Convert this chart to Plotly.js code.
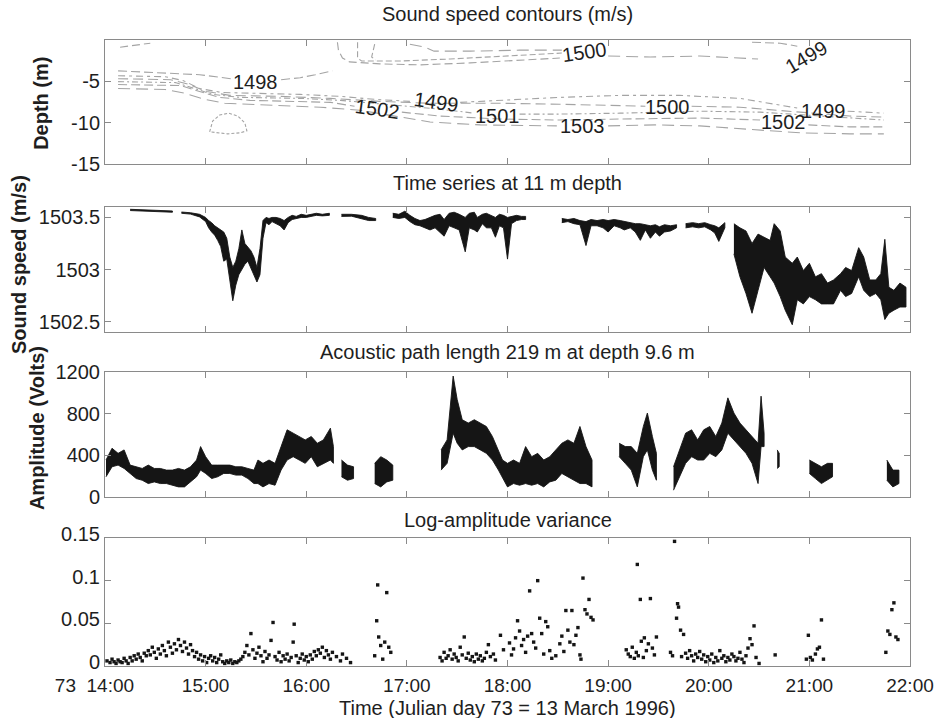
<!DOCTYPE html>
<html>
<head>
<meta charset="utf-8">
<script src="https://cdn.plot.ly/plotly-3.0.1.min.js"></script>
<style>html,body{margin:0;padding:0;background:#fff;}#chart{width:947px;height:718px;}</style>
</head>
<body>
<div id="chart"></div>
<script>
// ---------- X axis (hours of Julian day 73) ----------
const hourTicks = [14, 15, 16, 17, 18, 19, 20, 21, 22];
const hourLabels = ['73\u00a0\u00a014:00\u00a0\u00a0\u00a0\u00a0', '15:00', '16:00', '17:00', '18:00', '19:00', '20:00', '21:00', '22:00'];

// ---------- Panel 1: sound speed contour lines (time h, depth m) ----------
const c1498Time  = [14.13, 14.35, 14.61, 14.94, 15.25, null, 15.75, 15.94, 16.09, 16.26];
const c1498Depth = [-3.73, -3.85, -3.96, -4.20, -4.68, null, -4.80, -4.56, -4.20, -3.73];

const c1499Time  = [14.13, 14.60, 14.78, 14.94, 15.16, 15.54, 15.94, 16.34, 16.68, 17.03, null, 17.53, 17.93, 18.52, 19.12, 19.71, 20.31, 20.89, null, 21.38, 21.60, 21.74];
const c1499Depth = [-4.32, -4.44, -4.92, -5.87, -6.35, -6.46, -6.58, -6.82, -7.18, -7.42, null, -7.54, -7.30, -6.94, -6.70, -6.70, -7.06, -8.25, null, -8.61, -8.73, -8.85];

const c1500Time  = [14.13, 14.65, 14.84, 15.01, 15.24, 15.74, 16.24, 16.73, 17.23, 17.93, 18.52, 18.92, 19.37, null, 19.83, 20.31, 20.91, 21.40, 21.74];
const c1500Depth = [-4.68, -4.80, -5.39, -6.23, -6.70, -6.82, -7.06, -7.42, -7.65, -7.65, -7.77, -7.89, -8.01, null, -8.01, -8.13, -8.73, -9.20, -9.32];

const c1501Time  = [14.13, 14.70, 14.89, 15.07, 15.34, 15.94, 16.34, 16.93, 17.33, 17.67, null, 18.12, 18.52, 19.12, 19.91, 20.51, 21.11, 21.74];
const c1501Depth = [-5.04, -5.15, -5.87, -6.58, -6.94, -7.06, -7.30, -7.89, -8.37, -8.85, null, -8.96, -8.96, -8.85, -8.61, -8.73, -9.20, -9.68];

const c1502Time  = [14.13, 14.75, 14.94, 15.14, 15.44, 15.94, 16.24, 16.48, null, 16.95, 17.33, 17.93, 18.52, 19.12, 19.91, 20.51, null, 20.99, 21.40, 21.74];
const c1502Depth = [-5.39, -5.51, -6.23, -6.94, -7.30, -7.42, -7.54, -8.01, null, -8.73, -9.20, -9.56, -9.68, -9.56, -9.44, -9.68, null, -10.27, -10.51, -10.51];

const c1503Time  = [14.13, 14.60, 14.80, 14.99, 15.19, 15.64, 16.14, 16.53, 16.93, 17.23, 17.73, 18.49, null, 19.00, 19.47, 19.91, 20.51, 20.91, 21.40, 21.74];
const c1503Depth = [-5.87, -5.99, -6.46, -7.18, -7.65, -7.89, -8.13, -8.49, -9.32, -9.92, -10.27, -10.39, null, -10.39, -10.27, -10.39, -10.87, -11.23, -11.35, -11.35];

const cDomeTime  = [15.04, 15.07, 15.14, 15.23, 15.32, 15.39, 15.41, 15.34, 15.22, 15.09, 15.04];
const cDomeDepth = [-11.11, -9.80, -9.08, -8.85, -9.20, -10.04, -10.99, -11.23, -11.35, -11.23, -11.11];

const cTopATime  = [16.31, 16.32, 16.36, 16.43, 16.73, 17.13, 17.63, 18.12, 18.52];
const cTopADepth = [-0.27, -1.23, -2.18, -2.65, -2.89, -3.01, -2.77, -2.42, -2.18];
const cTopBTime  = [16.51, 16.51, 16.55, 16.93, 17.43, 17.93, 18.32, 18.54];
const cTopBDepth = [-0.27, -2.18, -2.54, -2.54, -2.30, -1.94, -1.70, -1.58];
const cTopCTime  = [16.68, 16.65, 16.69];
const cTopCDepth = [-0.51, -2.06, -2.42];
const cTop1500Time  = [17.03, 17.18, 17.27, 17.63, 18.12, 18.54, null, 19.00, 19.42, 19.91, 20.49];
const cTop1500Depth = [-0.51, -0.87, -1.35, -1.35, -1.23, -1.23, null, -1.94, -2.06, -1.94, -2.30];
const cTop1499Time  = [20.43, 20.71, 20.88];
const cTop1499Depth = [-0.27, -0.39, -0.75];
const cCornerTime  = [14.15, 14.30, 14.45];
const cCornerDepth = [-0.87, -0.63, -0.39];

// contour labels
const cLabelText  = ['1498', '1500', '1499', '1502', '1499', '1501', '1503', '1500', '1502', '1499'];
const cLabelTime  = [15.50, 18.77, 20.97, 16.71, 17.29, 17.90, 18.75, 19.59, 20.74, 21.14];
const cLabelDepth = [-5.04, -1.46, -2.06, -8.37, -7.54, -9.20, -10.39, -8.13, -9.92, -8.60];
const cLabelAngle = [0, -8, -30, 8, 8, 0, 0, 0, 0, 0];

// ---------- Panel 2: sound speed at 11 m (envelope of the fast signal) ----------
const ssTime = [14.25, 14.45, 14.67, null,
  14.76, 14.85, 14.94, 15.00, 15.03, 15.06, 15.09, 15.12, 15.15, 15.18, 15.21, 15.24, 15.27, 15.30, 15.33, 15.36, 15.39, 15.42, 15.45, 15.48, 15.51, 15.54, 15.57, 15.60, 15.63, 15.66, 15.70, 15.74, 15.78, 15.82, 15.86, 15.90, 15.95, 16.00, 16.05, 16.10, 16.16, 16.23, null,
  16.35, 16.45, 16.55, 16.62, 16.69, null,
  16.86, 16.92, 16.98, 17.03, 17.08, 17.13, 17.18, 17.23, 17.28, 17.33, 17.37, 17.42, 17.47, 17.52, 17.58, 17.62, 17.67, 17.70, 17.75, 17.79, 17.84, 17.88, 17.92, 17.96, 18.00, 18.04, 18.09, 18.14, 18.18, null,
  18.54, 18.60, 18.66, 18.72, 18.78, 18.83, 18.89, 18.95, 19.00, 19.06, 19.12, 19.16, 19.22, 19.27, 19.32, 19.37, 19.42, 19.47, 19.51, 19.56, 19.62, 19.68, null,
  19.77, 19.84, 19.90, 19.96, 20.02, 20.06, 20.10, 20.16, null,
  20.25, 20.31, 20.37, 20.43, 20.49, 20.55, 20.61, 20.65, 20.71, 20.76, 20.83, 20.88, 20.94, 21.00, 21.06, 21.12, 21.18, 21.24, 21.31, 21.36, 21.42, 21.49, 21.54, 21.60, 21.66, 21.71, 21.75, 21.79, 21.84, 21.90, 21.96];
const ssHigh = [1503.578, 1503.572, 1503.562, null,
  1503.552, 1503.545, 1503.530, 1503.500, 1503.470, 1503.450, 1503.420, 1503.400, 1503.380, 1503.360, 1503.300, 1503.120, 1503.020, 1503.080, 1503.200, 1503.380, 1503.250, 1503.220, 1503.180, 1503.120, 1503.020, 1503.200, 1503.470, 1503.500, 1503.490, 1503.500, 1503.500, 1503.490, 1503.470, 1503.500, 1503.520, 1503.510, 1503.530, 1503.520, 1503.530, 1503.540, 1503.530, 1503.540, null,
  1503.530, 1503.530, 1503.520, 1503.500, 1503.490, null,
  1503.540, 1503.530, 1503.560, 1503.520, 1503.490, 1503.470, 1503.480, 1503.500, 1503.520, 1503.530, 1503.480, 1503.540, 1503.550, 1503.530, 1503.500, 1503.540, 1503.550, 1503.500, 1503.530, 1503.540, 1503.520, 1503.500, 1503.530, 1503.520, 1503.500, 1503.510, 1503.520, 1503.510, 1503.510, null,
  1503.490, 1503.480, 1503.490, 1503.470, 1503.460, 1503.480, 1503.470, 1503.480, 1503.470, 1503.480, 1503.470, 1503.460, 1503.450, 1503.440, 1503.440, 1503.430, 1503.420, 1503.430, 1503.410, 1503.430, 1503.420, 1503.430, null,
  1503.440, 1503.450, 1503.440, 1503.450, 1503.430, 1503.420, 1503.400, 1503.450, null,
  1503.440, 1503.400, 1503.370, 1503.250, 1503.340, 1503.310, 1503.280, 1503.440, 1503.370, 1503.120, 1503.060, 1503.120, 1502.990, 1503.060, 1502.930, 1502.960, 1502.870, 1502.900, 1502.960, 1503.020, 1502.990, 1503.210, 1503.120, 1502.900, 1502.900, 1502.960, 1503.290, 1502.830, 1502.800, 1502.870, 1502.830];
const ssLow = [1503.566, 1503.560, 1503.550, null,
  1503.540, 1503.532, 1503.505, 1503.460, 1503.400, 1503.360, 1503.330, 1503.280, 1503.220, 1503.080, 1503.100, 1502.900, 1502.700, 1502.850, 1502.950, 1503.000, 1503.050, 1503.080, 1503.020, 1502.950, 1502.880, 1502.950, 1503.300, 1503.450, 1503.430, 1503.460, 1503.440, 1503.420, 1503.380, 1503.450, 1503.480, 1503.490, 1503.500, 1503.500, 1503.510, 1503.520, 1503.515, 1503.520, null,
  1503.510, 1503.512, 1503.490, 1503.470, 1503.470, null,
  1503.500, 1503.490, 1503.500, 1503.460, 1503.430, 1503.420, 1503.400, 1503.380, 1503.400, 1503.360, 1503.320, 1503.420, 1503.400, 1503.380, 1503.170, 1503.400, 1503.380, 1503.360, 1503.440, 1503.400, 1503.400, 1503.310, 1503.420, 1503.400, 1503.100, 1503.440, 1503.470, 1503.480, 1503.480, null,
  1503.450, 1503.460, 1503.440, 1503.430, 1503.230, 1503.420, 1503.420, 1503.400, 1503.360, 1503.420, 1503.400, 1503.380, 1503.400, 1503.360, 1503.280, 1503.380, 1503.300, 1503.360, 1503.320, 1503.360, 1503.370, 1503.400, null,
  1503.400, 1503.410, 1503.400, 1503.410, 1503.380, 1503.350, 1503.270, 1503.400, null,
  1503.150, 1502.930, 1502.770, 1502.580, 1502.800, 1503.020, 1502.930, 1502.870, 1502.740, 1502.610, 1502.470, 1502.710, 1502.670, 1502.740, 1502.710, 1502.670, 1502.670, 1502.670, 1502.800, 1502.740, 1502.770, 1502.930, 1502.800, 1502.740, 1502.770, 1502.710, 1502.520, 1502.580, 1502.610, 1502.640, 1502.640];

// ---------- Panel 3: acoustic amplitude (envelope of the fast signal, Volts) ----------
const ampTime = [14.01, 14.07, 14.13, 14.19, 14.25, 14.31, 14.37, 14.43, 14.49, 14.55, 14.61, 14.67, 14.73, 14.79, 14.85, 14.91, 14.95, 15.00, 15.06, 15.12, 15.18, 15.24, 15.30, 15.36, 15.42, 15.48, 15.52, 15.57, 15.63, 15.69, 15.75, 15.81, 15.87, 15.93, 15.99, 16.05, 16.11, 16.17, 16.24, 16.27, null,
  16.35, 16.41, 16.47, null,
  16.68, 16.74, 16.80, 16.86, null,
  17.34, 17.40, 17.46, 17.50, 17.55, 17.61, 17.67, 17.73, 17.79, 17.85, 17.91, 17.95, 18.00, 18.06, 18.12, 18.18, 18.24, 18.30, 18.36, 18.42, 18.48, 18.54, 18.60, 18.66, 18.72, 18.78, 18.84, null,
  19.11, 19.17, 19.23, 19.29, 19.35, 19.39, 19.44, 19.48, null,
  19.65, 19.71, 19.77, 19.83, 19.89, 19.95, 20.01, 20.07, 20.13, 20.19, 20.25, 20.31, 20.37, 20.43, 20.49, 20.52, 20.55, null,
  20.68, 20.70, null,
  21.00, 21.06, 21.12, 21.18, 21.23, null,
  21.77, 21.83, 21.89];
const ampHigh = [355, 468, 419, 452, 306, 290, 274, 306, 274, 274, 258, 258, 274, 258, 290, 355, 484, 387, 306, 306, 306, 306, 290, 290, 274, 258, 355, 323, 355, 323, 484, 645, 613, 581, 548, 581, 516, 548, 661, 484, null,
  355, 306, 290, null,
  323, 387, 355, 306, null,
  452, 548, 1161, 935, 742, 710, 742, 710, 677, 581, 452, 355, 323, 355, 323, 484, 387, 419, 355, 387, 452, 516, 548, 516, 677, 484, 355, null,
  516, 484, 484, 419, 677, 806, 581, 419, null,
  290, 452, 613, 645, 548, 645, 677, 581, 710, 952, 806, 710, 645, 581, 516, 968, 613, null,
  452, 419, null,
  355, 323, 290, 323, 323, null,
  355, 258, 258];
const ampLow = [194, 290, 306, 274, 226, 177, 161, 129, 145, 129, 129, 113, 97, 97, 145, 194, 258, 226, 177, 194, 226, 226, 210, 210, 177, 129, 129, 97, 129, 113, 258, 355, 387, 355, 323, 387, 290, 323, 355, 323, null,
  194, 161, 177, null,
  129, 97, 145, 161, null,
  258, 323, 613, 516, 452, 484, 484, 452, 419, 355, 258, 194, 97, 129, 113, 129, 113, 129, 97, 145, 161, 226, 194, 161, 129, 129, 97, null,
  387, 323, 258, 97, 387, 452, 258, 161, null,
  65, 194, 323, 387, 355, 355, 419, 387, 452, 613, 548, 484, 419, 323, 129, 484, 484, null,
  274, 290, null,
  226, 177, 129, 161, 194, null,
  161, 97, 129];

// ---------- Panel 4: log-amplitude variance (points) ----------
const lavTime = [14.02, 14.05, 14.07, 14.09, 14.11, 14.13, 14.15, 14.17, 14.19, 14.21, 14.23, 14.25, 14.27, 14.29, 14.31, 14.33, 14.35, 14.37, 14.39, 14.41, 14.43, 14.45, 14.47, 14.49, 14.51, 14.53, 14.55, 14.57, 14.59, 14.61, 14.63, 14.65, 14.67, 14.69, 14.71, 14.73, 14.75, 14.77, 14.79, 14.81, 14.83, 14.85, 14.87, 14.89, 14.91, 14.93, 14.95, 14.97, 14.99, 15.01, 15.03, 15.05, 15.07, 15.09, 15.11, 15.13, 15.15, 15.17, 15.19, 15.21, 15.23, 15.25, 15.27, 15.29, 15.31, 15.33, 15.35, 15.37, 15.39, 15.41, 15.43, 15.45, 15.47, 15.49, 15.51, 15.53, 15.55, 15.57, 15.59, 15.61, 15.63, 15.65, 15.67, 15.69, 15.71, 15.73, 15.75, 15.77, 15.79, 15.81, 15.83, 15.85, 15.87, 15.88, 15.90, 15.92, 15.94, 15.96, 15.98, 16.00, 16.02, 16.04, 16.06, 16.08, 16.10, 16.12, 16.14, 16.16, 16.18, 16.20, 16.22, 16.24, 16.26, 16.30, 16.34, 16.36, 16.40, 16.44,
  16.68, 16.70, 16.71, 16.72, 16.74, 16.76, 16.78, 16.80, 16.82, 16.84,
  17.33, 17.35, 17.37, 17.39, 17.41, 17.43, 17.45, 17.47, 17.49, 17.51, 17.53, 17.55, 17.57, 17.59, 17.61, 17.63, 17.65, 17.67, 17.69, 17.71, 17.73, 17.75, 17.77, 17.79, 17.81, 17.83, 17.86, 17.88, 17.93, 17.96,
  18.02, 18.04, 18.06, 18.08, 18.10, 18.12, 18.14, 18.16, 18.18, 18.20, 18.22, 18.24, 18.26, 18.28, 18.30, 18.32, 18.34, 18.36, 18.38, 18.40, 18.42, 18.44, 18.48, 18.52, 18.54, 18.56, 18.58, 18.60, 18.62, 18.64, 18.66, 18.68, 18.70, 18.72, 18.73, 18.75, 18.77, 18.79, 18.81, 18.83, 18.85,
  19.18, 19.20, 19.22, 19.24, 19.26, 19.28, 19.29, 19.30, 19.32, 19.33, 19.35, 19.36, 19.38, 19.40, 19.42, 19.44, 19.46, 19.48,
  19.62, 19.64, 19.66, 19.68, 19.69, 19.70, 19.72, 19.73, 19.75, 19.77, 19.79, 19.81, 19.83, 19.85, 19.87, 19.89, 19.91, 19.93, 19.95, 19.97, 19.99, 20.01, 20.03, 20.05, 20.07, 20.09, 20.11, 20.13, 20.15, 20.17, 20.19, 20.21, 20.23, 20.25, 20.27, 20.29, 20.31, 20.33, 20.35, 20.37, 20.39, 20.41, 20.43, 20.45, 20.47, 20.50,
  20.66, 20.97, 20.99, 21.01, 21.03, 21.06, 21.08, 21.10, 21.12, 21.14,
  21.76, 21.78, 21.80, 21.82, 21.84, 21.86, 21.88];
const lavValue = [0.006, 0.004, 0.008, 0.005, 0.003, 0.007, 0.005, 0.004, 0.009, 0.006, 0.003, 0.010, 0.006, 0.012, 0.008, 0.014, 0.010, 0.006, 0.015, 0.012, 0.018, 0.013, 0.022, 0.016, 0.009, 0.020, 0.014, 0.024, 0.018, 0.012, 0.028, 0.022, 0.015, 0.026, 0.019, 0.031, 0.024, 0.017, 0.028, 0.021, 0.014, 0.025, 0.018, 0.011, 0.016, 0.008, 0.013, 0.006, 0.011, 0.004, 0.009, 0.012, 0.006, 0.010, 0.004, 0.008, 0.013, 0.005, 0.003, 0.006, 0.004, 0.007, 0.003, 0.005, 0.004, 0.006, 0.008, 0.011, 0.016, 0.024, 0.013, 0.038, 0.019, 0.009, 0.015, 0.022, 0.012, 0.005, 0.017, 0.009, 0.013, 0.030, 0.051, 0.011, 0.007, 0.016, 0.005, 0.012, 0.008, 0.014, 0.006, 0.010, 0.028, 0.049, 0.012, 0.004, 0.009, 0.014, 0.007, 0.011, 0.005, 0.013, 0.008, 0.017, 0.012, 0.019, 0.015, 0.022, 0.010, 0.018, 0.013, 0.008, 0.016, 0.011, 0.006, 0.014, 0.009, 0.004,
  0.012, 0.053, 0.095, 0.034, 0.024, 0.008, 0.028, 0.086, 0.022, 0.016,
  0.010, 0.006, 0.016, 0.009, 0.012, 0.019, 0.008, 0.014, 0.010, 0.006, 0.022, 0.013, 0.034, 0.009, 0.015, 0.007, 0.011, 0.005, 0.014, 0.008, 0.012, 0.006, 0.009, 0.016, 0.025, 0.011, 0.014, 0.007, 0.036, 0.019,
  0.027, 0.013, 0.020, 0.033, 0.053, 0.041, 0.024, 0.031, 0.016, 0.035, 0.088, 0.038, 0.028, 0.021, 0.100, 0.056, 0.038, 0.014, 0.052, 0.046, 0.018, 0.009, 0.012, 0.026, 0.035, 0.017, 0.065, 0.042, 0.028, 0.065, 0.025, 0.036, 0.045, 0.013, 0.008, 0.103, 0.066, 0.061, 0.078, 0.057, 0.054,
  0.019, 0.014, 0.011, 0.022, 0.009, 0.016, 0.119, 0.012, 0.078, 0.029, 0.010, 0.033, 0.018, 0.026, 0.079, 0.021, 0.013, 0.034,
  0.016, 0.012, 0.146, 0.056, 0.073, 0.069, 0.042, 0.011, 0.037, 0.015, 0.009, 0.018, 0.012, 0.006, 0.014, 0.010, 0.017, 0.008, 0.013, 0.005, 0.011, 0.007, 0.014, 0.004, 0.010, 0.006, 0.018, 0.009, 0.012, 0.005, 0.010, 0.007, 0.014, 0.011, 0.006, 0.009, 0.016, 0.008, 0.004, 0.012, 0.021, 0.032, 0.025, 0.047, 0.010, 0.003,
  0.013, 0.008, 0.036, 0.010, 0.007, 0.014, 0.020, 0.022, 0.054, 0.008,
  0.016, 0.041, 0.037, 0.066, 0.074, 0.034, 0.031];

// ---------- Text ----------
const panelTitles = ['Sound speed contours (m/s)', 'Time series at 11 m depth', 'Acoustic path length 219 m at depth 9.6 m', 'Log-amplitude variance'];
const yTitles = ['Depth (m)', 'Sound speed (m/s)', 'Amplitude (Volts)'];
const xTitle = 'Time (Julian day 73 = 13 March 1996)';

// ---------- Build ----------
const FONT = 'Liberation Sans, Arial, Helvetica, sans-serif';
const TXT = '#1e1e1e';
const AX = '#8a8a8a';

const traces = [];
const contourSets = [
  [c1498Time, c1498Depth, '9px,4px'], [c1499Time, c1499Depth, '7px,4px,3px,4px'], [c1500Time, c1500Depth, '10px,5px'],
  [c1501Time, c1501Depth, '6px,3px,2px,3px'], [c1502Time, c1502Depth, '9px,4px'], [c1503Time, c1503Depth, '12px,6px'],
  [cDomeTime, cDomeDepth, '3px,2px'], [cTopATime, cTopADepth, '8px,4px'], [cTopBTime, cTopBDepth, '6px,3px'],
  [cTopCTime, cTopCDepth, '6px,3px'], [cTop1500Time, cTop1500Depth, '12px,6px'], [cTop1499Time, cTop1499Depth, '9px,4px'],
  [cCornerTime, cCornerDepth, '8px,4px']
];
contourSets.forEach(s => traces.push({
  type: 'scatter', mode: 'lines', x: s[0], y: s[1], xaxis: 'x', yaxis: 'y',
  line: {color: '#a4a4a4', width: 1.1, dash: s[2]}, connectgaps: false, hoverinfo: 'skip'
}));

function bands(t, hi, lo, xa, ya) {
  let cur = {t: [], hi: [], lo: []};
  const runs = [];
  for (let i = 0; i < t.length; i++) {
    if (t[i] === null) { if (cur.t.length) runs.push(cur); cur = {t: [], hi: [], lo: []}; }
    else { cur.t.push(t[i]); cur.hi.push(hi[i]); cur.lo.push(lo[i]); }
  }
  if (cur.t.length) runs.push(cur);
  runs.forEach(r => traces.push({
    type: 'scatter', mode: 'lines', xaxis: xa, yaxis: ya,
    x: r.t.concat(r.t.slice().reverse()),
    y: r.hi.concat(r.lo.slice().reverse()),
    fill: 'toself', fillcolor: '#151515', line: {color: '#151515', width: 0.9}, hoverinfo: 'skip'
  }));
}
bands(ssTime, ssHigh, ssLow, 'x2', 'y2');
bands(ampTime, ampHigh, ampLow, 'x3', 'y3');

traces.push({
  type: 'scatter', mode: 'markers', x: lavTime, y: lavValue, xaxis: 'x4', yaxis: 'y4',
  marker: {symbol: 'square', size: 3.4, color: '#151515'}, hoverinfo: 'skip'
});

function xAxis(anchor, labels) {
  return {
    anchor: anchor, domain: [0, 1], range: [14, 22], tickvals: hourTicks, ticktext: hourLabels,
    showticklabels: labels, showline: true, linecolor: AX, linewidth: 1, mirror: 'allticks',
    ticks: 'inside', ticklen: 6, tickcolor: AX, showgrid: false, zeroline: false,
    ticklabelstandoff: 2,
    tickfont: {family: FONT, size: 19, color: TXT}
  };
}
function yAxis(anchor, domain, range, vals, texts, shift) {
  return {
    anchor: anchor, domain: domain, range: range, tickvals: vals, ticktext: texts,
    showline: true, linecolor: AX, linewidth: 1, mirror: 'allticks',
    ticks: 'inside', ticklen: 6, tickcolor: AX, showgrid: false, zeroline: false,
    ticklabelshift: shift || 0,
    tickfont: {family: FONT, size: 20, color: TXT}
  };
}

const annotations = [];
const titleY = [1.0415, 0.7716, 0.5016, 0.2332];
panelTitles.forEach((t, i) => annotations.push({
  text: t, xref: 'paper', yref: 'paper', x: 0.5, y: titleY[i], xanchor: 'center', yanchor: 'middle',
  showarrow: false, font: {family: FONT, size: 20, color: TXT}
}));
const yTitleX = [-0.0795, -0.1068, -0.0845];
const yTitleY = [0.898, 0.6406, 0.380];
yTitles.forEach((t, i) => annotations.push({
  text: '<b>' + t + '</b>', xref: 'paper', yref: 'paper', x: yTitleX[i], y: yTitleY[i], xanchor: 'center', yanchor: 'middle',
  textangle: -90, showarrow: false, font: {family: FONT, size: 20, color: TXT}
}));
annotations.push({
  text: xTitle, xref: 'paper', yref: 'paper', x: 0.5, y: -0.0675, xanchor: 'center', yanchor: 'middle',
  showarrow: false, font: {family: FONT, size: 20, color: TXT}
});
cLabelText.forEach((t, i) => annotations.push({
  text: t, xref: 'x', yref: 'y', x: cLabelTime[i], y: cLabelDepth[i], textangle: cLabelAngle[i],
  xanchor: 'center', yanchor: 'middle', showarrow: false, font: {family: FONT, size: 20, color: TXT}
}));

const layout = {
  width: 947, height: 718, margin: {l: 105, r: 37, t: 40, b: 52},
  paper_bgcolor: '#fff', plot_bgcolor: '#fff', showlegend: false,
  xaxis: xAxis('y', false), xaxis2: xAxis('y2', false), xaxis3: xAxis('y3', false), xaxis4: xAxis('y4', true),
  yaxis: yAxis('x', [0.8019, 1], [-15, 0], [-15, -10, -5], ['-15', '-10', '-5']),
  yaxis2: yAxis('x2', [0.5335, 0.7332], [1502.4, 1503.6], [1502.5, 1503, 1503.5], ['1502.5', '1503', '1503.5']),
  yaxis3: yAxis('x3', [0.27, 0.4696], [0, 1200], [0, 400, 800, 1200], ['0', '400', '800', '1200']),
  yaxis4: yAxis('x4', [0, 0.2045], [0, 0.15], [0, 0.05, 0.1, 0.15], ['0', '0.05', '0.1', '0.15'], -4),
  annotations: annotations
};

Plotly.newPlot('chart', traces, layout, {displayModeBar: false, staticPlot: true});
</script>
</body>
</html>
